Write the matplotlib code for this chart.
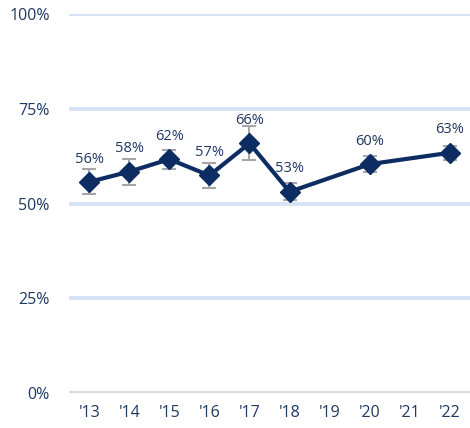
import numpy as np
from matplotlib import pyplot as plt

# данные по годам
years = ["'13", "'14", "'15", "'16", "'17", "'18", "'19", "'20", "'21", "'22"]
share = [55.7, 58.4, 61.7, 57.4, 65.9, 53.1, np.nan, 60.4, np.nan, 63.4]
err = [3.3, 3.4, 2.5, 3.3, 4.5, 2.3, np.nan, 2.1, np.nan, 1.9]

navy = '#0d2d62'
text_col = '#1f3864'

plt.rcParams['font.family'] = ['Open Sans', 'DejaVu Sans']

fig = plt.figure(figsize=(4.7, 4.28), dpi=100)
ax = fig.add_axes([0.147, 0.082, 0.853, 0.885])

x = np.arange(len(years))
y = np.array(share)
ok = ~np.isnan(y)

# сетка
for v in [25, 50, 75, 100]:
    ax.axhline(v, color='#d6e3f5', lw=2.8, zorder=0)
ax.axhline(0, color='#d9d9d9', lw=2.8, zorder=0)

# линия с пропусками соединяется
ax.errorbar(x[ok], y[ok], yerr=np.array(err)[ok], fmt='none', ecolor='#a6a6a6',
            elinewidth=1.5, capsize=5, capthick=1.5, zorder=2)
ax.plot(x[ok], y[ok], color=navy, lw=3, marker='D', markersize=10, zorder=3)

for xi, yi in zip(x[ok], y[ok]):
    ax.annotate(f'{yi:.0f}%', (xi, yi), xytext=(0, 16.5), textcoords='offset points',
                ha='center', va='center', fontsize=10.5, color=text_col)

ax.set_xlim(-0.5, 9.5)
ax.set_ylim(0, 100)
ax.set_yticks([0, 25, 50, 75, 100])
ax.set_yticklabels(['0%', '25%', '50%', '75%', '100%'])
ax.set_xticks(x)
ax.set_xticklabels(years)
ax.tick_params(length=0, labelsize=11.5, labelcolor=text_col)
ax.tick_params(axis='y', pad=14)
ax.tick_params(axis='x', pad=9)
for s in ax.spines.values():
    s.set_visible(False)

plt.savefig('out.png')
